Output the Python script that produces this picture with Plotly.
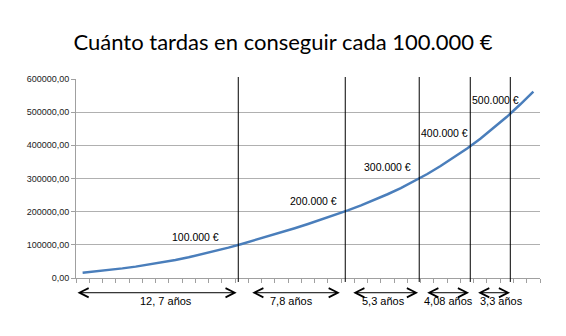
import plotly.graph_objects as go

years = list(range(1, 36))
values = [16000, 19900, 24200, 29000, 34300, 40200, 46800, 54200, 62400, 71400,
          81200, 91700, 102700, 114100, 125800, 137800, 150200, 163000, 176200, 189900,
          204100, 219000, 235000, 252500, 271000, 291500, 313500, 337500, 363000, 390500,
          420000, 452000, 486000, 523000, 562000]

y_ticks = [0, 100000, 200000, 300000, 400000, 500000, 600000]
y_ticktext = [f"{v},00" for v in y_ticks]

# milestones: year at which each 100.000 € is reached
milestone_years = [12.74, 20.81, 26.39, 30.24, 33.26]
milestone_labels = ["100.000 €", "200.000 €", "300.000 €", "400.000 €", "500.000 €"]
label_x = [9.48, 18.38, 24.0, 28.26, 32.16]
label_y = [123500, 232000, 334000, 437700, 536000]

span_start = [0.5, 13.68, 21.3, 26.88, 30.72]
span_end = [12.62, 20.4, 26.3, 30.15, 33.24]
span_text = ["12, 7 años", "7,8 años", "5,3 años", "4,08 años", "3,3 años"]
span_text_x = [7.3, 16.79, 23.66, 28.56, 32.63]

FONT = "Liberation Sans"

fig = go.Figure()
fig.add_trace(go.Scatter(x=years, y=values, mode="lines",
                         line=dict(color="#4a7ebb", width=2.5), showlegend=False,
                         hoverinfo="skip"))

shapes = []
for my in milestone_years:
    shapes.append(dict(type="line", xref="x", yref="paper", x0=my, x1=my, y0=-0.02, y1=1.01,
                       line=dict(color="black", width=1)))

annotations = []
for t, lx, ly in zip(milestone_labels, label_x, label_y):
    annotations.append(dict(x=lx, y=ly, xref="x", yref="y", text=t, showarrow=False,
                            font=dict(family=FONT, size=10.5, color="black")))
for s, e in zip(span_start, span_end):
    annotations.append(dict(x=e, y=-0.074, xref="x", yref="paper", ax=s, ay=0,
                            axref="x", ayref="pixel", showarrow=True, text="",
                            arrowhead=5, startarrowhead=5, arrowside="end+start",
                            arrowsize=1.8, startarrowsize=1.8, arrowwidth=1,
                            arrowcolor="black", standoff=0, startstandoff=0))
for t, tx in zip(span_text, span_text_x):
    annotations.append(dict(x=tx, y=-0.157, xref="x", yref="paper", text=t, showarrow=False,
                            font=dict(family=FONT, size=11, color="black")))

fig.update_layout(
    width=566, height=336,
    margin=dict(l=76, r=26, t=79, b=58),
    paper_bgcolor="white", plot_bgcolor="white",
    title=dict(text="Cuánto tardas en conseguir cada 100.000 €", x=0.5, xanchor="center",
               y=1 - 42 / 336, yanchor="middle", yref="container",
               font=dict(family="Lato", size=22, color="black")),
    shapes=shapes, annotations=annotations,
    xaxis=dict(range=[0.5, 35.5], tickvals=[i + 0.5 for i in range(36)], showticklabels=False,
               ticks="outside", ticklen=4, tickcolor="#a0a0a0", showgrid=False,
               showline=True, linecolor="#a0a0a0", linewidth=1, zeroline=False, fixedrange=True),
    yaxis=dict(range=[0, 600000], tickvals=y_ticks, ticktext=y_ticktext,
               ticks="outside", ticklen=4, tickcolor="#a0a0a0",
               showgrid=True, gridcolor="#b0b0b0", gridwidth=1,
               showline=True, linecolor="#a0a0a0", linewidth=1, zeroline=False,
               tickfont=dict(family=FONT, size=9, color="#222222"), fixedrange=True),
)

fig.write_html("out.html")
